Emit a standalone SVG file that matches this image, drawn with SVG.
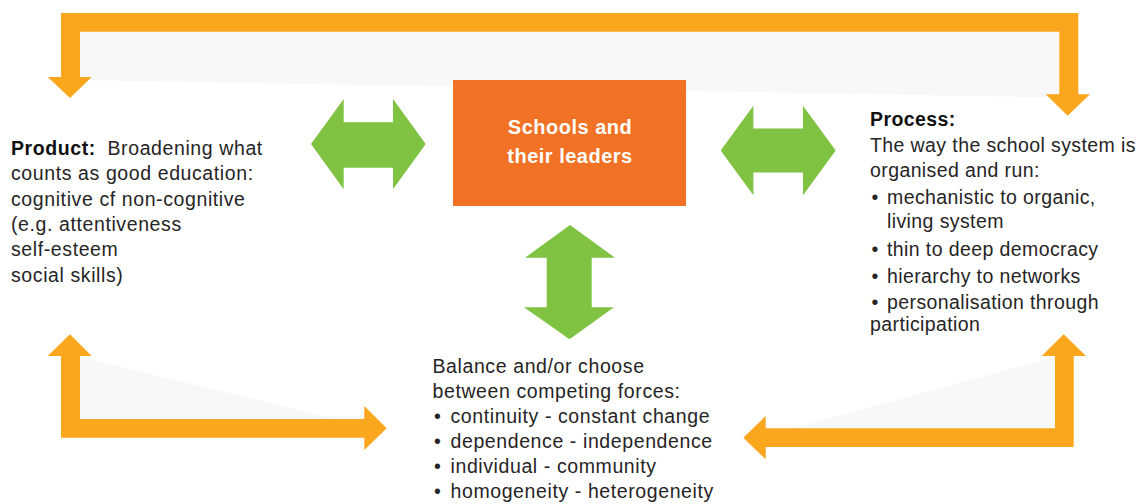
<svg xmlns="http://www.w3.org/2000/svg" width="1137" height="504" viewBox="0 0 1137 504">
<style>
.shade{fill:#F8F8FA}
.loop{fill:#FAA71D}
.link{fill:#80C343}
.txt{font-family:"Liberation Sans",Arial,sans-serif;font-size:19.5px;fill:#262425;letter-spacing:0.4px}
.wide{letter-spacing:0.6px}
.b{font-weight:bold;fill:#111}
.box{fill:#F27225}
.boxtxt{font-family:"Liberation Sans",Arial,sans-serif;font-size:20px;font-weight:bold;fill:#fff;text-anchor:middle;letter-spacing:0.5px}
</style>
<rect width="1137" height="504" fill="#fff"/>
<g id="connectors">
<polygon class="shade" points="80,31.7 1059.3,31.7 1059.3,97.5 80,80"/>
<polygon class="shade" points="80,357 80,419 335,419"/>
<polygon class="shade" points="1055,357 1055,428.3 793,428.3"/>
<polygon class="loop" points="61,77 47.7,77 70,98 91.7,77 80,77 80,31.7 1059.3,31.7 1059.3,94.3 1045.7,94.3 1067.7,115.7 1090,94.3 1078.3,94.3 1078.3,13 61,13"/>
<polygon class="loop" points="61,356 47.7,356 70,334.3 91.7,356 80,356 80,419 364.3,419 364.3,406 386.7,428.3 364.3,450 364.3,437.7 61,437.7"/>
<polygon class="loop" points="1073.7,356 1086,356 1063.7,334.3 1041.7,356 1055,356 1055,428.3 765.7,428.3 765.7,416 743.3,437.7 765.7,459.3 765.7,447 1073.7,447"/>
<polygon class="link" points="311,144 343.7,99 343.7,122.3 393,122.3 393,99 425.7,144 393,189.3 393,167.7 343.7,167.7 343.7,189.3"/>
<polygon class="link" points="720.7,150.5 753.4,105.7 753.4,128.5 803,128.5 803,105.7 835.7,150.5 803,195.3 803,172.5 753.4,172.5 753.4,195.3"/>
<polygon class="link" points="570,225 615,257.7 591.7,257.7 591.7,307.3 614,307.3 569.5,339.3 524,307.3 546.7,307.3 546.7,257.7 525,257.7"/>
</g>
<g id="schools">
<rect class="box" x="453" y="80" width="233" height="126"/>
<text class="boxtxt" x="570" y="134">Schools and</text>
<text class="boxtxt" x="570" y="163">their leaders</text>
</g>
<g id="product">
<text class="txt wide"><tspan class="b" x="11" y="155">Product:</tspan><tspan x="107.5" y="155">Broadening what</tspan><tspan x="11" y="180.3">counts as good education:</tspan><tspan x="11" y="205.6">cognitive cf non-cognitive</tspan><tspan x="11" y="230.9">(e.g. attentiveness</tspan><tspan x="11" y="256.2">self-esteem</tspan><tspan x="11" y="281.5">social skills)</tspan></text>
</g>
<g id="process">
<text class="txt"><tspan class="b" x="870" y="126">Process:</tspan><tspan x="870" y="151.7">The way the school system is</tspan><tspan x="870" y="176.7">organised and run:</tspan><tspan x="871.5" y="204">•</tspan><tspan x="887" y="204">mechanistic to organic,</tspan><tspan x="887" y="227.7">living system</tspan><tspan x="871.5" y="256">•</tspan><tspan x="887" y="256">thin to deep democracy</tspan><tspan x="871.5" y="282.7">•</tspan><tspan x="887" y="282.7">hierarchy to networks</tspan><tspan x="871.5" y="309.3">•</tspan><tspan x="887" y="309.3">personalisation through</tspan><tspan x="870" y="330.5">participation</tspan></text>
</g>
<g id="forces">
<text class="txt wide"><tspan x="432.5" y="373.3">Balance and/or choose</tspan><tspan x="432.5" y="398.3">between competing forces:</tspan><tspan x="434" y="423.3">•</tspan><tspan x="450.5" y="423.3">continuity - constant change</tspan><tspan x="434" y="448.3">•</tspan><tspan x="450.5" y="448.3">dependence - independence</tspan><tspan x="434" y="473.3">•</tspan><tspan x="450.5" y="473.3">individual - community</tspan><tspan x="434" y="498.3">•</tspan><tspan x="450.5" y="498.3">homogeneity - heterogeneity</tspan></text>
</g>
</svg>
